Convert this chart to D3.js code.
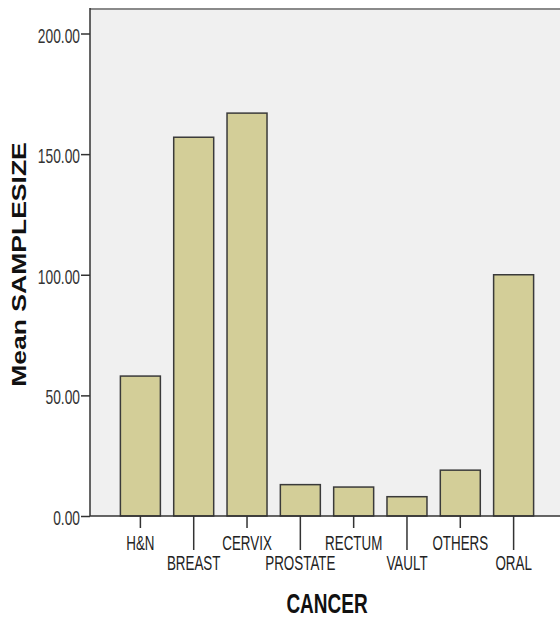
<!DOCTYPE html>
<html>
<head>
<meta charset="utf-8">
<script src="https://cdn.jsdelivr.net/npm/d3@7"></script>
<style>
  html, body { margin: 0; padding: 0; background: #ffffff; }
  svg { display: block; }
  text { font-family: "Liberation Sans", Arial, sans-serif; }
</style>
</head>
<body>
<div id="chart"></div>
<script>
// ---- data ----
const categories = ["H&N", "BREAST", "CERVIX", "PROSTATE", "RECTUM", "VAULT", "OTHERS", "ORAL"];
const meanSampleSize = [58, 157, 167, 13, 12, 8, 19, 100];
const yTicks = [0, 50, 100, 150, 200];
const yTitle = "Mean SAMPLESIZE";
const xTitle = "CANCER";

const W = 560, H = 619;
const plot = { left: 90, top: 8, right: 566, bottom: 516 };
const stretch = 1.45;

const svg = d3.select("#chart").append("svg")
  .attr("width", W).attr("height", H);

const x = d3.scaleBand()
  .domain(categories)
  .range([plot.left, 564])
  .paddingInner(0.25)
  .paddingOuter(0.57);

const y = d3.scaleLinear()
  .domain([0, 200])
  .range([plot.bottom, 33.5]);

// plot background
svg.append("rect")
  .attr("x", plot.left).attr("y", plot.top)
  .attr("width", plot.right - plot.left)
  .attr("height", plot.bottom - plot.top)
  .attr("fill", "#f0f0f0");

// top border
svg.append("line")
  .attr("x1", plot.left).attr("x2", plot.right)
  .attr("y1", plot.top + 1).attr("y2", plot.top + 1)
  .attr("stroke", "#8a8a8a").attr("stroke-width", 2);

// bars
const data = categories.map((c, i) => ({ c, v: meanSampleSize[i] }));
svg.append("g").selectAll("rect")
  .data(data).join("rect")
  .attr("x", d => x(d.c))
  .attr("y", d => y(d.v))
  .attr("width", x.bandwidth())
  .attr("height", d => y(0) - y(d.v))
  .attr("fill", "#d3ce98")
  .attr("stroke", "#3a3a3a")
  .attr("stroke-width", 1.5);

// y axis
const yAxis = svg.append("g")
  .attr("transform", `translate(${plot.left},0)`)
  .call(d3.axisLeft(y).tickValues(yTicks).tickFormat(d3.format(".2f")).tickSize(9).tickPadding(1));
yAxis.select(".domain").remove();
yAxis.selectAll(".tick line").attr("stroke", "#333").attr("stroke-width", 1.5);
yAxis.selectAll(".tick text")
  .attr("x", null).attr("y", null).attr("dy", null)
  .attr("transform", `translate(-10,8.5) scale(1,${stretch})`)
  .attr("text-anchor", "end")
  .attr("fill", "#333")
  .style("font-size", "13.8px")
  .style("font-family", "'Liberation Sans', Arial, sans-serif");

// x axis
const xAxis = svg.append("g")
  .attr("transform", `translate(0,${plot.bottom})`)
  .call(d3.axisBottom(x).tickSize(0));
xAxis.select(".domain").remove();
xAxis.selectAll(".tick line")
  .attr("y2", (d, i) => i % 2 === 0 ? 12 : 34)
  .attr("stroke", "#333").attr("stroke-width", 1.5);
xAxis.selectAll(".tick text")
  .attr("y", null).attr("dy", null)
  .attr("transform", (d, i) => `translate(0,${i % 2 === 0 ? 34 : 54}) scale(1,${stretch})`)
  .attr("fill", "#222")
  .style("font-size", "13.4px")
  .style("font-family", "'Liberation Sans', Arial, sans-serif");

// axis lines
svg.append("line")
  .attr("x1", plot.left).attr("x2", plot.left)
  .attr("y1", plot.top).attr("y2", plot.bottom)
  .attr("stroke", "#333").attr("stroke-width", 1.5);
svg.append("line")
  .attr("x1", plot.left).attr("x2", plot.right)
  .attr("y1", plot.bottom).attr("y2", plot.bottom)
  .attr("stroke", "#333").attr("stroke-width", 1.5);

// titles
svg.append("text")
  .attr("transform", `translate(26,264.5) rotate(-90) scale(1.36,1)`)
  .attr("text-anchor", "middle")
  .attr("font-weight", "bold")
  .attr("fill", "#111")
  .style("font-size", "19.5px")
  .text(yTitle);

svg.append("text")
  .attr("transform", `translate(327,613) scale(1,${stretch})`)
  .attr("text-anchor", "middle")
  .attr("font-weight", "bold")
  .attr("fill", "#111")
  .style("font-size", "19px")
  .text(xTitle);
</script>
</body>
</html>
